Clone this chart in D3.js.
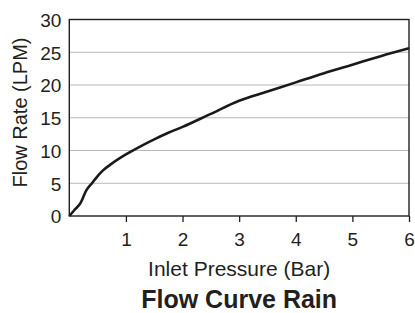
<!DOCTYPE html>
<html>
<head>
<meta charset="utf-8">
<script src="https://cdn.jsdelivr.net/npm/d3@7"></script>
<style>
  body { margin: 0; background: #fff; }
  text { font-family: "Liberation Sans", Arial, sans-serif; fill: #231f20; }
</style>
</head>
<body>
<div id="chart"></div>
<script>
// Chart size
const width = 415;
const height = 313;
const margin = { top: 19.5, right: 6, bottom: 97, left: 69.3 };

// Data
const pressure = [0, 0.1, 0.2, 0.3, 0.4, 0.5, 0.6, 0.75, 1, 1.25, 1.5, 1.75, 2, 2.5, 3, 3.5, 4, 4.5, 5, 5.5, 6];
const flow = [0, 1.0, 2.0, 3.9, 5.0, 6.1, 7.0, 8.0, 9.4, 10.6, 11.7, 12.7, 13.6, 15.6, 17.6, 19.0, 20.4, 21.8, 23.1, 24.4, 25.6];
const xTicks = [1, 2, 3, 4, 5, 6];
const yTicks = [0, 5, 10, 15, 20, 25, 30];

const svg = d3.select('#chart')
    .append('svg')
    .attr('width', width)
    .attr('height', height);

const x = d3.scaleLinear()
    .domain([0, 6])
    .range([margin.left, width - margin.right]);

const y = d3.scaleLinear()
    .domain([0, 30])
    .range([height - margin.bottom, margin.top]);

// Horizontal gridlines
svg.append('g')
    .selectAll('line')
    .data(yTicks.filter(d => d > 0 && d < 30))
    .join('line')
      .attr('x1', x(0))
      .attr('x2', x(6))
      .attr('y1', d => y(d))
      .attr('y2', d => y(d))
      .attr('stroke', '#b8b8b8')
      .attr('stroke-width', 1);

// X axis with ticks pointing down
const xAxis = svg.append('g')
    .attr('transform', `translate(0,${y(0)})`)
    .call(d3.axisBottom(x).tickValues(xTicks).tickSize(6).tickPadding(11).tickFormat(d3.format('d')));
xAxis.select('.domain').remove();
xAxis.selectAll('line').attr('stroke', '#231f20').attr('stroke-width', 1.3);
xAxis.selectAll('text').attr('font-size', 19).style('fill', '#231f20');

// Y axis labels only
const yAxis = svg.append('g')
    .attr('transform', `translate(${x(0)},0)`)
    .call(d3.axisLeft(y).tickValues(yTicks).tickSize(0).tickPadding(8));
yAxis.select('.domain').remove();
yAxis.selectAll('text').attr('font-size', 19).attr('dy', '0.36em').style('fill', '#231f20');

// Plot frame
svg.append('rect')
    .attr('x', x(0))
    .attr('y', y(30))
    .attr('width', x(6) - x(0))
    .attr('height', y(0) - y(30))
    .attr('fill', 'none')
    .attr('stroke', '#231f20')
    .attr('stroke-width', 1.4);

// Flow curve
const line = d3.line()
    .x((d, i) => x(pressure[i]))
    .y(d => y(d))
    .curve(d3.curveMonotoneX);

svg.append('path')
    .datum(flow)
    .attr('d', line)
    .attr('fill', 'none')
    .attr('stroke', '#1a1a1a')
    .attr('stroke-width', 2.6)
    .attr('stroke-linejoin', 'round');

// Axis titles
svg.append('text')
    .attr('transform', `translate(26.5,112.5) rotate(-90)`)
    .attr('text-anchor', 'middle')
    .attr('font-size', 20)
    .text('Flow Rate (LPM)');

svg.append('text')
    .attr('x', (x(0) + x(6)) / 2)
    .attr('y', 276)
    .attr('text-anchor', 'middle')
    .attr('font-size', 21)
    .text('Inlet Pressure (Bar)');

svg.append('text')
    .attr('x', (x(0) + x(6)) / 2)
    .attr('y', 307.5)
    .attr('text-anchor', 'middle')
    .attr('font-size', 25)
    .attr('font-weight', 'bold')
    .text('Flow Curve Rain');
</script>
</body>
</html>
